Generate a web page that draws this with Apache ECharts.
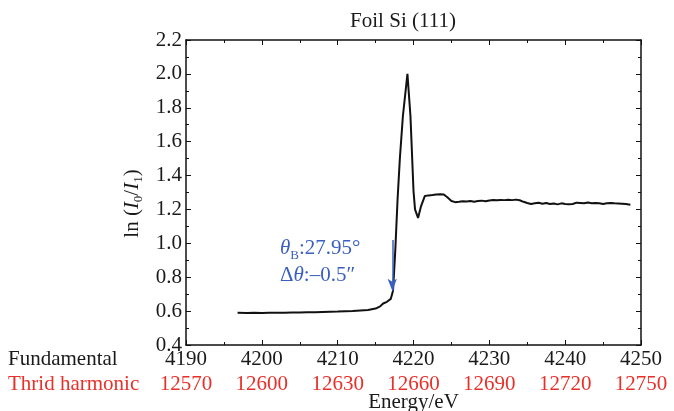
<!DOCTYPE html>
<html>
<head>
<meta charset="utf-8">
<script src="https://cdn.jsdelivr.net/npm/echarts@6/dist/echarts.min.js"></script>
<style>
  html, body { margin: 0; padding: 0; background: #fff; }
  #main { width: 674px; height: 411px; }
</style>
</head>
<body>
<div id="main"></div>
<script>
// 能量（基频，eV）
var energy = [4196.8, 4198, 4199, 4200, 4201, 4202, 4203, 4204, 4205, 4206, 4207, 4208, 4209, 4210,
  4211, 4212, 4213, 4214, 4215, 4215.6, 4216, 4216.5, 4217, 4217.3, 4217.6, 4217.9, 4218.2, 4218.6,
  4219.2, 4219.6, 4220.0, 4220.2, 4220.6, 4221.0, 4221.5, 4222, 4222.5, 4223, 4223.5, 4224, 4224.5,
  4225, 4225.5, 4226, 4226.5, 4227, 4227.5, 4228, 4228.5, 4229, 4229.5, 4230, 4230.5, 4231, 4231.5,
  4232, 4232.5, 4233, 4233.5, 4234, 4234.5, 4235, 4235.5, 4236, 4236.5, 4237, 4237.5, 4238, 4238.5,
  4239, 4239.5, 4240, 4240.5, 4241, 4241.5, 4242, 4242.5, 4243, 4243.5, 4244, 4244.5, 4245, 4245.5,
  4246, 4246.5, 4247, 4247.5, 4248, 4248.6];
// ln(I0/I1)
var lnRatio = [0.590, 0.589, 0.590, 0.589, 0.590, 0.591, 0.590, 0.592, 0.592, 0.593, 0.594, 0.595, 0.596, 0.597,
  0.599, 0.601, 0.604, 0.607, 0.615, 0.628, 0.645, 0.655, 0.672, 0.72, 0.96, 1.26, 1.50, 1.75,
  2.00, 1.75, 1.31, 1.20, 1.15, 1.22, 1.28, 1.283, 1.285, 1.288, 1.29, 1.288, 1.27,
  1.25, 1.243, 1.245, 1.248, 1.247, 1.25, 1.246, 1.25, 1.252, 1.248, 1.253, 1.256, 1.254, 1.256,
  1.255, 1.257, 1.255, 1.258, 1.254, 1.245, 1.238, 1.232, 1.236, 1.239, 1.234, 1.238, 1.232, 1.235,
  1.230, 1.236, 1.232, 1.231, 1.232, 1.240, 1.238, 1.236, 1.241, 1.237, 1.238, 1.236, 1.232, 1.237,
  1.238, 1.236, 1.235, 1.234, 1.232, 1.228];
// 坐标轴范围
var fundRange = [4190, 4250];
var thirdRange = [12570, 12750];
var yRange = [0.4, 2.2];
// 箭头（能量，上端，下端）
var arrowX = 4217.2, arrowTop = 1.02, arrowBottom = 0.72;

var serif = '"Liberation Serif", "DejaVu Serif", serif';
var blue = '#3a5fc0';
var red = '#e8302a';
var ink = '#1a1a1a';
var fs = 21;

var points = [];
for (var i = 0; i < energy.length; i++) {
  points.push([energy[i], lnRatio[i]]);
}

var chart = echarts.init(document.getElementById('main'));
var option = {
  backgroundColor: '#fff',
  animation: false,
  title: {
    text: 'Foil Si (111)',
    left: 398,
    top: 6,
    textAlign: 'center',
    textStyle: { fontFamily: serif, fontSize: fs, fontWeight: 'normal', color: ink }
  },
  grid: { left: 186, right: 33, top: 40, bottom: 66, outerBoundsMode: 'none', containLabel: false },
  xAxis: [{
    type: 'value',
    position: 'bottom',
    min: fundRange[0], max: fundRange[1], interval: 10,
    name: 'Energy/eV',
    nameLocation: 'middle',
    nameGap: 47,
    nameTextStyle: { fontFamily: serif, fontSize: fs, color: ink },
    axisLine: { lineStyle: { color: '#111', width: 1.5 } },
    axisTick: { inside: true, length: 5, lineStyle: { color: '#111' } },
    minorTick: { show: true, splitNumber: 2, length: 3, lineStyle: { color: '#111' } },
    axisLabel: { margin: 4, fontFamily: serif, fontSize: fs, color: ink, formatter: function (v) { return String(v); } },
    splitLine: { show: false }
  }, {
    type: 'value',
    position: 'bottom',
    offset: 25,
    min: thirdRange[0], max: thirdRange[1], interval: 30,
    axisLine: { show: false },
    axisTick: { show: false },
    axisLabel: { margin: 4, fontFamily: serif, fontSize: fs, color: red, formatter: function (v) { return String(v); } },
    splitLine: { show: false }
  }, {
    type: 'value',
    position: 'top',
    min: fundRange[0], max: fundRange[1], interval: 10,
    axisLine: { lineStyle: { color: '#111', width: 1.5 } },
    axisTick: { inside: true, length: 5, lineStyle: { color: '#111' } },
    minorTick: { show: true, splitNumber: 2, length: 3, lineStyle: { color: '#111' } },
    axisLabel: { show: false },
    splitLine: { show: false }
  }],
  yAxis: [{
    type: 'value',
    position: 'left',
    min: yRange[0], max: yRange[1], interval: 0.2,
    name: '{t|ln (}{i|I}{s|0}{t|/}{i|I}{s|1}{t|)}',
    nameLocation: 'middle',
    nameGap: 38,
    nameRotate: 90,
    nameTextStyle: {
      fontFamily: serif, fontSize: fs, color: ink,
      padding: [0, 22, 0, 0],
      rich: {
        t: { fontFamily: serif, fontSize: fs, color: ink, lineHeight: 24 },
        i: { fontFamily: serif, fontSize: fs, fontStyle: 'italic', color: ink, lineHeight: 24 },
        s: { fontFamily: serif, fontSize: 13, color: ink, verticalAlign: 'bottom', lineHeight: 12 }
      }
    },
    axisLine: { lineStyle: { color: '#111', width: 1.5 } },
    axisTick: { inside: true, length: 5, lineStyle: { color: '#111' } },
    minorTick: { show: true, splitNumber: 2, length: 3, lineStyle: { color: '#111' } },
    axisLabel: {
      margin: 4, fontFamily: serif, fontSize: fs, color: ink,
      formatter: function (v) { return v.toFixed(1); }
    },
    splitLine: { show: false }
  }, {
    type: 'value',
    position: 'right',
    min: yRange[0], max: yRange[1], interval: 0.2,
    axisLine: { lineStyle: { color: '#111', width: 1.5 } },
    axisTick: { inside: true, length: 5, lineStyle: { color: '#111' } },
    minorTick: { show: true, splitNumber: 2, length: 3, lineStyle: { color: '#111' } },
    axisLabel: { show: false },
    splitLine: { show: false }
  }],
  graphic: [{
    type: 'text', left: 8, top: 349,
    style: { text: 'Fundamental', font: fs + 'px ' + serif, fill: ink }
  }, {
    type: 'text', left: 8, top: 374,
    style: { text: 'Thrid harmonic', font: fs + 'px ' + serif, fill: red }
  }, {
    type: 'text', left: 280, top: 238,
    style: {
      text: '{i|θ}{s|B}{t|:27.95°}\n{t|Δ}{i|θ}{t|:–0.5″}',
      fill: blue,
      rich: {
        t: { fontFamily: serif, fontSize: fs, fill: blue, lineHeight: 27 },
        i: { fontFamily: serif, fontSize: fs, fontStyle: 'italic', fill: blue, lineHeight: 27 },
        s: { fontFamily: serif, fontSize: 13, fill: blue, verticalAlign: 'bottom', lineHeight: 14 }
      }
    }
  }],
  series: [{
    type: 'line',
    xAxisIndex: 0,
    yAxisIndex: 0,
    data: points,
    showSymbol: false,
    lineStyle: { color: '#111', width: 2 },
    markLine: {
      silent: true,
      symbol: ['none', 'arrow'],
      symbolSize: [7, 12],
      label: { show: false },
      lineStyle: { color: blue, width: 1.5, type: 'solid' },
      data: [[{ coord: [arrowX, arrowTop] }, { coord: [arrowX, arrowBottom] }]]
    }
  }]
};
chart.setOption(option);
</script>
</body>
</html>
